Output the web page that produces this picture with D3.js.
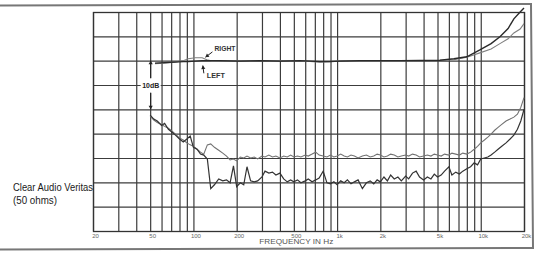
<!DOCTYPE html>
<html>
<head>
<meta charset="utf-8">
<script src="https://cdn.jsdelivr.net/npm/d3@7"></script>
<style>
body { margin: 0; background: #fff; }
svg { display: block; }
</style>
</head>
<body>
<script>
const W = 537, H = 255
const margin = {top: 12, left: 93, bottom: 24, right: 13}

// axis
const tickFreqs = [20, 50, 100, 200, 500, 1000, 2000, 5000, 10000, 20000]
const tickLabels = ['20', '50', '100', '200', '500', '1k', '2k', '5k', '10k', '20k']
const dbTicks = [-35, -30, -25, -20, -15, -10, -5, 0, 5, 10]

// frequency response, dB
const respFreq = [54, 63, 74, 85, 92, 103, 115, 124, 135, 153, 211, 290, 400, 552, 760, 892, 1050, 1440, 2740, 5200, 6500, 8000, 9860, 11800, 13600, 15500, 17000, 18800, 20000]
const respLeft = [-0.5, -0.4, -0.3, -0.2, -0.2, -0.1, 0, 0, 0, 0, -0.1, 0, -0.1, 0, -0.2, -0.2, -0.1, 0, 0, 0.1, 0.4, 0.8, 2.2, 3.5, 4.9, 6.6, 8.6, 10.0, 10.8]
const respRight = [-0.6, -0.5, -0.3, 0, 0.4, 0.6, 0.6, 0.2, -0.1, 0, 0, 0, 0, 0, -0.3, -0.2, 0, 0, 0, 0.1, 0.2, 0.7, 1.6, 2.4, 3.5, 4.5, 5.7, 6.5, 7.6]

// crosstalk, dB
const xtalkFreq = [50, 53, 56, 60, 63, 67, 71, 75, 80, 85, 90, 95,
  100, 106, 112, 118, 125, 132, 140, 150, 160, 170, 180, 190,
  200, 212, 224, 236, 250, 265, 280, 300, 315, 335, 355, 375, 400, 425, 450, 475,
  500, 530, 560, 600, 630, 670, 710, 750, 800, 850, 900, 950,
  1000, 1060, 1120, 1180, 1250, 1320, 1400, 1500, 1600, 1700, 1800, 1900,
  2000, 2120, 2240, 2360, 2500, 2650, 2800, 3000, 3150, 3350, 3550, 3750, 4000, 4250, 4500, 4750,
  5000, 5300, 5600, 6000, 6300, 6700, 7100, 7500, 8000, 8500, 9000, 9500,
  10000, 10600, 11200, 11800, 12500, 13200, 14000, 15000, 16000, 17000, 18000, 19000, 20000]
const xtalkUpper = [-11.4, -12.2, -12.7, -13.1, -13.5, -13.9, -14.5, -15.1, -15.9, -16.3, -16.9, -17.3,
  -17.6, -18.2, -18.8, -19.2, -17.3, -17.1, -17.8, -18.4, -19.0, -19.6, -20.4, -20.2,
  -20.6, -19.8, -20.0, -19.6, -20.0, -19.8, -20.2, -19.6, -19.8, -19.4, -19.8, -19.6, -20.0, -19.6, -19.8, -19.4,
  -19.8, -19.6, -19.8, -19.4, -19.6, -19.2, -18.8, -19.4, -19.6, -19.8, -19.4, -19.8,
  -19.6, -19.2, -19.6, -19.8, -19.4, -19.6, -20.0, -19.6, -19.4, -19.8, -19.6, -19.2,
  -19.4, -19.8, -19.6, -19.2, -19.4, -19.8, -19.6, -19.4, -19.6, -19.2, -19.4, -19.8, -19.6, -19.4, -19.6, -19.2,
  -19.4, -19.6, -19.2, -19.4, -19.0, -19.2, -19.4, -19.0, -19.2, -18.8, -18.2, -17.6,
  -16.9, -16.3, -15.7, -15.1, -14.3, -13.7, -13.1, -12.4, -12.0, -11.6, -11.0, -9.6, -7.6]
const xtalkLower = [-11.2, -12.0, -12.4, -13.3, -12.9, -14.1, -14.7, -15.3, -16.1, -16.7, -16.1, -15.5,
  -17.8, -18.2, -19.2, -19.4, -20.2, -26.3, -25.5, -24.3, -24.7, -24.5, -25.1, -21.6,
  -25.9, -25.1, -25.5, -21.8, -24.7, -24.9, -24.7, -23.9, -22.7, -23.1, -22.9, -23.5, -23.1, -24.3, -24.9, -24.5,
  -24.9, -24.5, -25.1, -24.7, -24.3, -24.9, -24.5, -24.1, -22.7, -25.1, -25.3, -24.9,
  -25.5, -24.7, -25.1, -24.5, -25.3, -24.9, -24.5, -26.3, -25.1, -24.7, -25.3, -24.5,
  -24.9, -23.9, -24.7, -23.5, -24.3, -23.9, -24.7, -23.7, -24.3, -23.1, -22.7, -23.9, -24.5, -23.9, -24.3, -23.3,
  -23.9, -23.5, -22.7, -21.8, -23.5, -22.9, -23.3, -22.7, -22.2, -21.8, -21.0, -21.4,
  -20.2, -20.0, -19.8, -19.4, -18.8, -18.2, -17.6, -16.9, -16.1, -15.3, -14.1, -12.4, -10.0]

const font = "'Liberation Sans Narrow', 'Liberation Sans', Arial, sans-serif"

let svg = d3.select('body')
            .append('svg')
            .attr('width', W)
            .attr('height', H)

let x = d3.scaleLog().domain([20, 20000]).range([margin.left, W - margin.right])
let y = d3.scaleLinear().domain([-35, 10]).range([H - margin.bottom, margin.top])

// grid
let gx = svg.append('g')
            .attr('transform', `translate(0, ${H - margin.bottom})`)
            .call(d3.axisBottom(x).ticks(10).tickSize(-(H - margin.bottom - margin.top)).tickFormat(''))
gx.select('.domain').remove()
gx.selectAll('line').attr('stroke', '#3c3c3c').attr('stroke-width', 1.2)

let gy = svg.append('g')
            .attr('transform', `translate(${margin.left}, 0)`)
            .call(d3.axisLeft(y).tickValues(dbTicks).tickSize(-(W - margin.left - margin.right)).tickFormat(''))
gy.select('.domain').remove()
gy.selectAll('line').attr('stroke', '#3c3c3c').attr('stroke-width', 1.2)

svg.append('rect')
   .attr('x', margin.left + 0.5)
   .attr('y', margin.top + 0.5)
   .attr('width', W - margin.left - margin.right)
   .attr('height', H - margin.top - margin.bottom)
   .attr('fill', 'none')
   .attr('stroke', '#333')
   .attr('stroke-width', 1.3)

// tick labels
let gl = svg.append('g')
            .attr('transform', `translate(2, ${H - margin.bottom})`)
            .call(d3.axisBottom(x).tickValues(tickFreqs).tickFormat((d, i) => tickLabels[i]).tickSize(0).tickPadding(3))
gl.select('.domain').remove()
gl.selectAll('text')
  .attr('font-family', font)
  .attr('font-size', 6)
  .attr('fill', '#666')

svg.append('text')
   .attr('x', x(520))
   .attr('y', 244)
   .attr('text-anchor', 'middle')
   .attr('font-family', font)
   .attr('font-size', 6.5)
   .attr('fill', '#555')
   .attr('textLength', 74)
   .attr('lengthAdjust', 'spacingAndGlyphs')
   .text('FREQUENCY IN Hz')

// curves
let line = d3.line().x(d => x(d[0])).y(d => y(d[1]))

svg.append('path')
   .datum(d3.zip(xtalkFreq, xtalkUpper))
   .attr('d', line)
   .attr('fill', 'none')
   .attr('stroke', '#727272')
   .attr('stroke-width', 1.1)

svg.append('path')
   .datum(d3.zip(xtalkFreq, xtalkLower))
   .attr('d', line)
   .attr('fill', 'none')
   .attr('stroke', '#333')
   .attr('stroke-width', 1.2)

svg.append('path')
   .datum(d3.zip(respFreq, respRight))
   .attr('d', line)
   .attr('fill', 'none')
   .attr('stroke', '#808080')
   .attr('stroke-width', 1.1)

svg.append('path')
   .datum(d3.zip(respFreq, respLeft))
   .attr('d', line)
   .attr('fill', 'none')
   .attr('stroke', '#2a2a2a')
   .attr('stroke-width', 1.4)

// annotations
function arrow(x1, y1, x2, y2) {
  svg.append('line')
     .attr('x1', x1).attr('y1', y1).attr('x2', x2).attr('y2', y2)
     .attr('stroke', '#222').attr('stroke-width', 1)
  let a = Math.atan2(y2 - y1, x2 - x1), s = 3.5
  let p1 = [x2 - s * Math.cos(a) + s * 0.6 * Math.sin(a), y2 - s * Math.sin(a) - s * 0.6 * Math.cos(a)]
  let p2 = [x2 - s * Math.cos(a) - s * 0.6 * Math.sin(a), y2 - s * Math.sin(a) + s * 0.6 * Math.cos(a)]
  svg.append('path')
     .attr('d', `M${x2},${y2}L${p1[0]},${p1[1]}L${p2[0]},${p2[1]}Z`)
     .attr('fill', '#222')
}

let ax = x(50) + 0.5
svg.append('rect')
   .attr('x', ax - 10).attr('y', y(-3.6))
   .attr('width', 20).attr('height', y(-6.6) - y(-3.6))
   .attr('fill', '#fff')
arrow(ax, y(-3.6), ax, y(0))
arrow(ax, y(-6.6), ax, y(-10))
svg.append('text')
   .attr('x', ax)
   .attr('y', y(-5) + 3)
   .attr('text-anchor', 'middle')
   .attr('font-family', font)
   .attr('font-weight', 'bold')
   .attr('font-size', 8)
   .attr('fill', '#222')
   .attr('textLength', 17)
   .attr('lengthAdjust', 'spacingAndGlyphs')
   .text('10dB')

let rx = x(140)
svg.append('text')
   .attr('x', rx).attr('y', y(2))
   .attr('font-family', font)
   .attr('font-weight', 'bold')
   .attr('font-size', 7)
   .attr('fill', '#333')
   .attr('textLength', 21)
   .attr('lengthAdjust', 'spacingAndGlyphs')
   .text('RIGHT')
arrow(rx - 2, y(1.8), rx - 9, y(0.7))

let lx = x(124)
svg.append('text')
   .attr('x', lx).attr('y', y(-3.6))
   .attr('font-family', font)
   .attr('font-weight', 'bold')
   .attr('font-size', 7)
   .attr('fill', '#333')
   .attr('textLength', 18)
   .attr('lengthAdjust', 'spacingAndGlyphs')
   .text('LEFT')
arrow(lx - 3, y(-2.6), lx - 4, y(-1.0))

// side caption
svg.append('text')
   .attr('x', 13).attr('y', 191)
   .attr('font-family', font)
   .attr('font-size', 10.5)
   .attr('fill', '#1a1a1a')
   .attr('textLength', 80)
   .attr('lengthAdjust', 'spacingAndGlyphs')
   .text('Clear Audio Veritas')
svg.append('text')
   .attr('x', 13).attr('y', 203.5)
   .attr('font-family', font)
   .attr('font-size', 10.5)
   .attr('fill', '#1a1a1a')
   .attr('textLength', 44)
   .attr('lengthAdjust', 'spacingAndGlyphs')
   .text('(50 ohms)')

// page frame
svg.append('path')
   .attr('d', 'M0,5.5L531,4L533,248L0,249.5')
   .attr('fill', 'none')
   .attr('stroke', '#777')
   .attr('stroke-width', 2)
</script>
</body>
</html>
